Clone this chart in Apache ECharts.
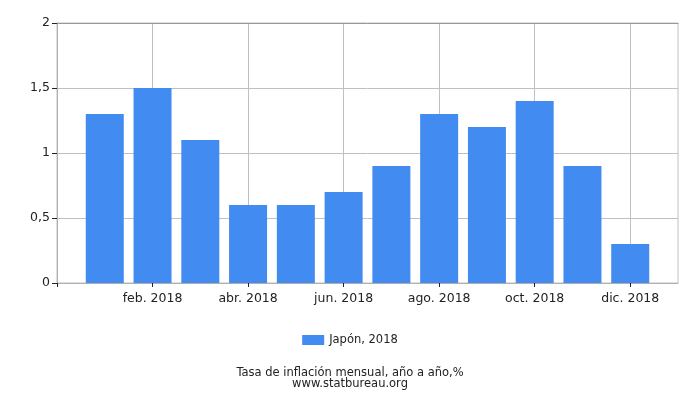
<!DOCTYPE html>
<html><head><meta charset="utf-8">
<script src="https://cdn.jsdelivr.net/npm/echarts@6/dist/echarts.min.js"></script>
<style>html,body{margin:0;padding:0;background:#fff}#c{width:700px;height:400px}</style>
</head><body><div id="c"></div>
<script>
var months = ['ene. 2018','feb. 2018','mar. 2018','abr. 2018','may. 2018','jun. 2018','jul. 2018','ago. 2018','sep. 2018','oct. 2018','nov. 2018','dic. 2018'];
var values = [1.3, 1.5, 1.1, 0.6, 0.6, 0.7, 0.9, 1.3, 1.2, 1.4, 0.9, 0.3];
var seriesName = 'Japón, 2018';
var yTicks = [0, 0.5, 1, 1.5, 2];
var labelPositions = [2, 4, 6, 8, 10, 12];
var tickPositions = [0, 2, 4, 6, 8, 10, 12];

var font = 'DejaVu Sans';
var chart = echarts.init(document.getElementById('c'), null, {renderer: 'canvas'});
chart.setOption({
  animation: false,
  textStyle: {fontFamily: font},
  grid: {left: 57, right: 22, top: 23, bottom: 117, show: true, borderColor: '#c0c0c0', borderWidth: 1},
  xAxis: [{
    type: 'value', min: 0, max: months.length + 1, interval: 2,
    axisLine: {show: true, lineStyle: {color: '#b0b0b0'}},
    axisTick: {show: true, length: 4, lineStyle: {color: '#222'}, customValues: tickPositions},
    axisLabel: {color: '#222', fontSize: 12.5, margin: 9, customValues: labelPositions,
      formatter: function (v) { return months[v - 1] || ''; }},
    splitLine: {show: true, lineStyle: {color: '#c0c0c0'}}
  }, {
    type: 'value', position: 'top', min: 0, max: 1,
    axisLine: {show: true, lineStyle: {color: '#999'}},
    axisTick: {show: false}, axisLabel: {show: false}, splitLine: {show: false}
  }],
  yAxis: {
    type: 'value', min: yTicks[0], max: yTicks[yTicks.length - 1], interval: 0.5,
    axisLine: {show: true, lineStyle: {color: '#b0b0b0'}},
    axisTick: {show: true, length: 5, lineStyle: {color: '#222'}},
    axisLabel: {color: '#222', fontSize: 12.5, margin: 7,
      formatter: function (v) { return String(v).replace('.', ','); }},
    splitLine: {show: true, lineStyle: {color: '#c0c0c0'}}
  },
  legend: {
    bottom: 49, left: 'center', itemWidth: 22, itemHeight: 10, itemGap: 5,
    textStyle: {fontSize: 11.5, color: '#222', fontFamily: font},
    data: [{name: seriesName, icon: 'rect'}]
  },
  title: {
    text: 'Tasa de inflación mensual, año a año,%',
    subtext: 'www.statbureau.org',
    left: 'center', top: 362, itemGap: -1,
    textStyle: {fontSize: 11.5, fontWeight: 'normal', color: '#222', fontFamily: font},
    subtextStyle: {fontSize: 11.5, color: '#222', fontFamily: font}
  },
  series: [{
    name: seriesName, type: 'bar', barWidth: 38,
    itemStyle: {color: '#428bf0'},
    data: values.map(function (v, i) { return [i + 1, v]; })
  }]
});
</script></body></html>
